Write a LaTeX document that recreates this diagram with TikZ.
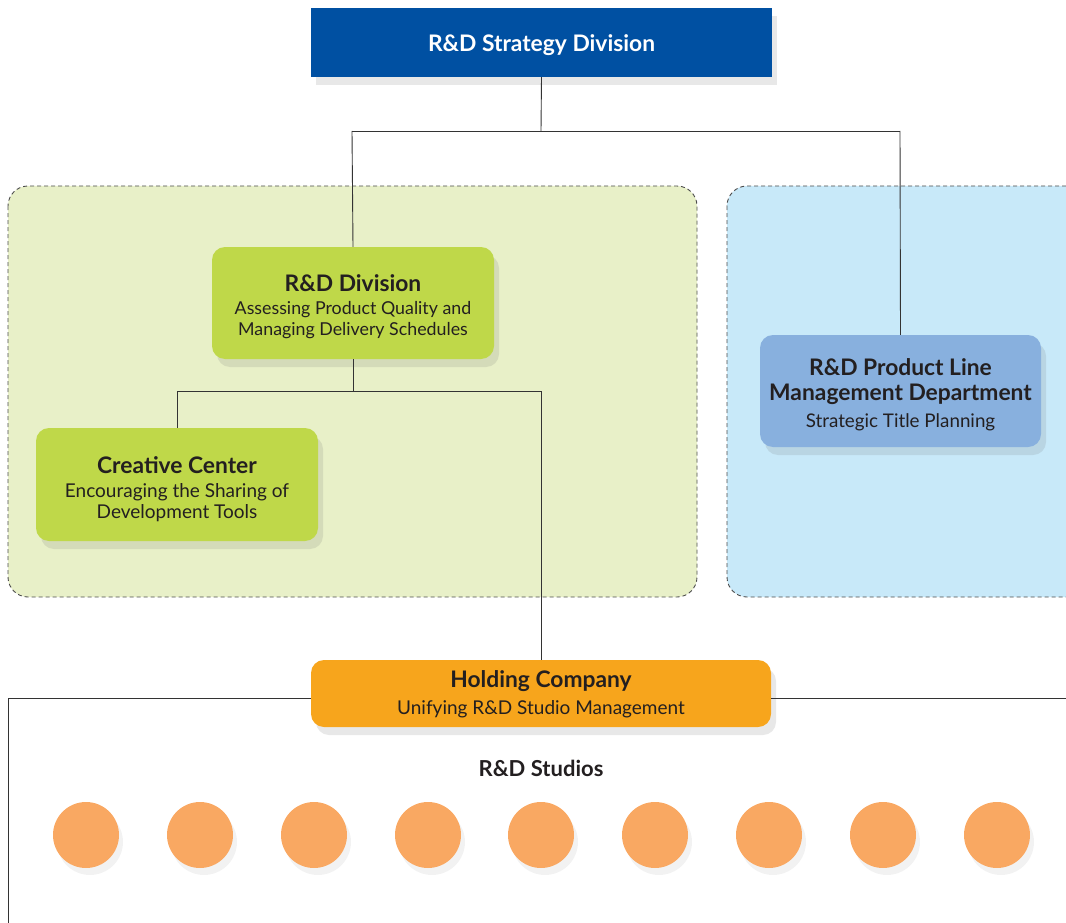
\documentclass[tikz,border=0pt]{standalone}
\usepackage{fontspec}
\setmainfont{Lato}
\usetikzlibrary{shadows}
\definecolor{txt}{HTML}{231F20}
\definecolor{stratblue}{HTML}{0050A2}
\definecolor{divgreen}{HTML}{BFD849}
\definecolor{panelgreen}{HTML}{E8F0C8}
\definecolor{panelblue}{HTML}{C8E9F9}
\definecolor{plblue}{HTML}{88B0DE}
\definecolor{holdorange}{HTML}{F7A51C}
\definecolor{studio}{HTML}{F9A862}
\definecolor{linec}{HTML}{333333}
\tikzset{
  x=1pt, y=-1pt,
  shad/.style={drop shadow={shadow xshift=5pt, shadow yshift=-8pt, opacity=0.15, fill=black!60}},
  orgbox/.style={shad, rounded corners=13pt, align=center, text=txt, inner sep=0pt},
  panel/.style={rounded corners=20pt, draw=black!70, dash pattern=on 4pt off 3pt, line width=0.9pt},
  conn/.style={draw=linec, line width=0.9pt},
}
\newcommand{\bt}[1]{{\fontsize{22.8}{26}\selectfont\bfseries #1}}
\newcommand{\dn}{\rule{0pt}{24.5pt}}
\begin{document}
\begin{tikzpicture}
\useasboundingbox (0,0) rectangle (1066,923);
\clip (0,0) rectangle (1066,923);
% panels
\path[panel, fill=panelgreen] (8,186) rectangle (697,597);
\path[panel, fill=panelblue] (727,186) rectangle (1100,597);
% nodes
\node[shad, fill=stratblue, minimum width=461pt, minimum height=69pt, inner sep=0pt, text=white, font=\fontsize{22.8}{26}\selectfont\bfseries, text height=19pt, text depth=1pt] (strat) at (541.5,42.5) {R\&D Strategy Division};
\coordinate (j1) at (541,131);
\coordinate (j1l) at (352,131);
\coordinate (j1r) at (900,131);
\coordinate (j2) at (353,391);
\coordinate (j2l) at (177,391);
\coordinate (j2r) at (541,391);
\draw[conn] (strat.south) -- (j1);
\draw[conn] (j1l) -- (j1r);
\node[orgbox, fill=divgreen, minimum width=282pt, minimum height=112pt, font=\fontsize{17.8}{21}\selectfont] (div) at (353,303) {\dn\bt{R\&D Division}\\[2pt]Assessing Product Quality and\\Managing Delivery Schedules};
\node[orgbox, fill=divgreen, minimum width=282pt, minimum height=113pt, font=\fontsize{19}{21}\selectfont] (cc) at (177,484.5) {\rule{0pt}{25.5pt}\bt{Creative Center}\\[3pt]Encouraging the Sharing of\\Development Tools};
\node[orgbox, fill=plblue, minimum width=281pt, minimum height=112pt, font=\fontsize{18.8}{21}\selectfont] (pl) at (900.5,391) {\dn\bt{R\&D Product Line}\\[4pt]\bt{Management Department}\\[6pt]Strategic Title Planning};
\node[orgbox, fill=holdorange, minimum width=460pt, minimum height=67pt, font=\fontsize{19}{21}\selectfont] (hold) at (541,693.5) {\rule{0pt}{19pt}\bt{Holding Company}\\[6pt]Unifying R\&D Studio Management};
\draw[conn] (j1l) -- (div.north);
\draw[conn] (j1r) -- (pl.north);
\draw[conn] (div.south) -- (j2);
\draw[conn] (j2l) -- (j2r);
\draw[conn] (j2l) -- (cc.north);
\draw[conn] (j2r) -- (hold.north);
\coordinate (hl) at (8,698);
\coordinate (hlb) at (8,923);
\coordinate (hr) at (1066,698);
\draw[conn] (hlb) -- (hl) -- (hold.west |- hl);
\draw[conn] (hold.east |- hr) -- (hr);
\node[text=txt, font=\fontsize{22}{24}\selectfont\bfseries] (studios) at (541,768) {R\&D Studios};
\foreach \i/\x in {1/86,2/200,3/314,4/428,5/541,6/655,7/769,8/883,9/997}{
  \node[circle, fill=studio, minimum size=66pt, inner sep=0pt, drop shadow={shadow xshift=4pt, shadow yshift=-7pt, opacity=0.10, fill=black!50}] (s\i) at (\x,835) {};
}
\end{tikzpicture}
\end{document}
